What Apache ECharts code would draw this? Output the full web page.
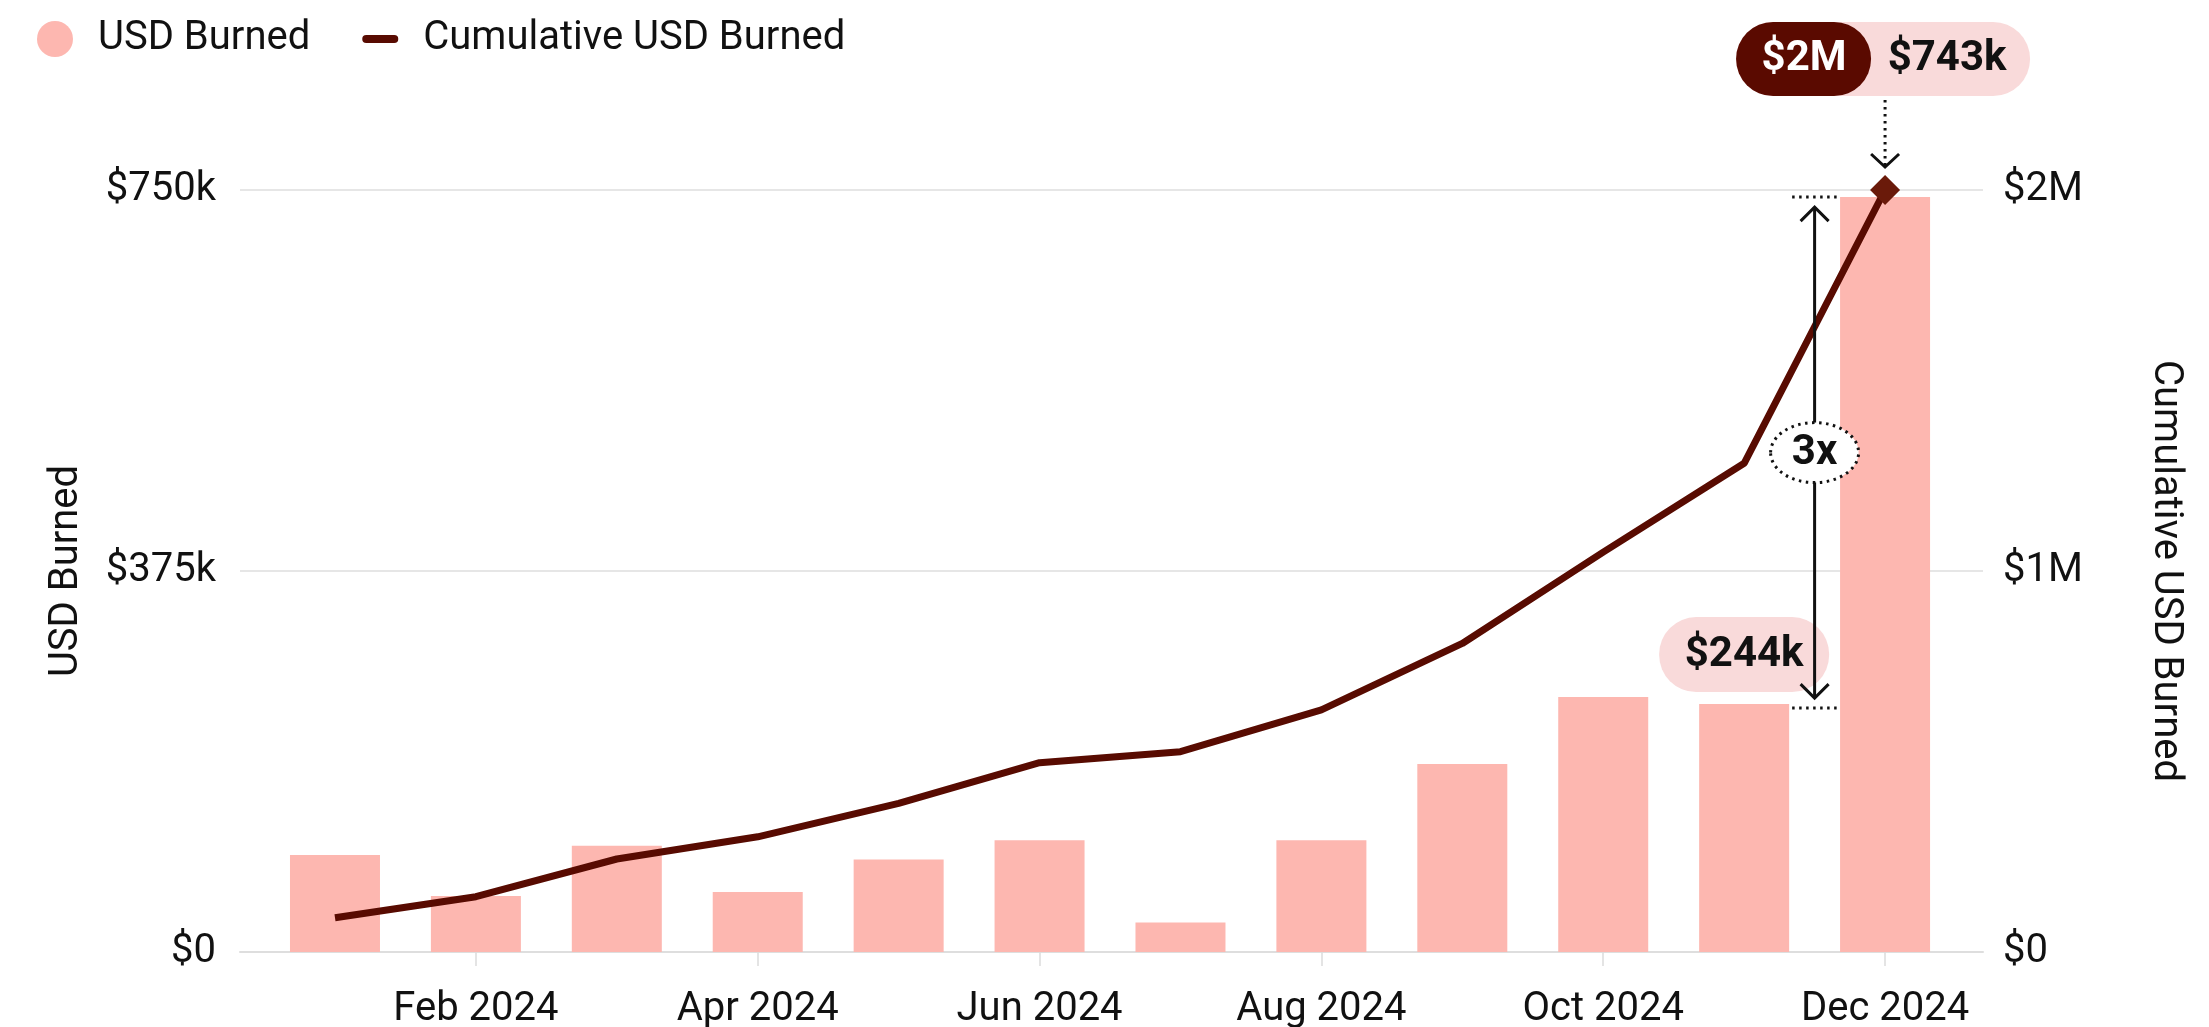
<!DOCTYPE html>
<html>
<head>
<meta charset="utf-8">
<script src="https://cdn.jsdelivr.net/npm/echarts@6/dist/echarts.min.js"></script>
<style>
  html, body { margin: 0; padding: 0; background: #ffffff; }
  #chart { width: 2209px; height: 1027px; }
</style>
</head>
<body>
<div id="chart"></div>
<script>
// ---------- data ----------
const months = ['Jan 2024','Feb 2024','Mar 2024','Apr 2024','May 2024','Jun 2024','Jul 2024','Aug 2024','Sep 2024','Oct 2024','Nov 2024','Dec 2024'];
const usdBurned = [95500, 55000, 104500, 59000, 91000, 110000, 29000, 110000, 185000, 251000, 244000, 743000];
const cumulativeBurned = [93500, 150700, 253500, 314000, 405000, 516000, 546000, 660000, 841000, 1090000, 1332000, 2077000];
const tickIndex = [1, 3, 5, 7, 9, 11];
const tickLabels = ['Feb 2024', 'Apr 2024', 'Jun 2024', 'Aug 2024', 'Oct 2024', 'Dec 2024'];

// ---------- style ----------
const FONT = 'Roboto';
const PINK = '#fdb7b0';
const MAROON = '#580b01';
const DIAMOND = '#6a1a0a';
const PILL = '#f9dada';
const TEXT = '#111111';

const fmtK = v => v === 0 ? '$0' : '$' + Math.round(v / 1000) + 'k';
const fmtM = v => v === 0 ? '$0' : '$' + Math.round(v / 1e6) + 'M';

const chart = echarts.init(document.getElementById('chart'), null, { renderer: 'canvas' });
const last = months.length - 1;
const cumMax = cumulativeBurned[last];

const option = {
  animation: false,
  backgroundColor: '#ffffff',
  textStyle: { fontFamily: FONT },
  legend: {
    left: 32, top: 14,
    itemWidth: 36, itemHeight: 36, itemGap: 52,
    textStyle: { fontFamily: FONT, fontSize: 40, color: TEXT, padding: [0, 0, 0, 20] },
    data: [
      { name: 'USD Burned', icon: 'circle' },
      { name: 'Cumulative USD Burned', icon: 'path://M4,0 H32 A4,4 0 0 1 32,8 H4 A4,4 0 0 1 4,0 Z' }
    ]
  },
  grid: { left: 240, right: 226, top: 190, bottom: 75, containLabel: false, outerBoundsMode: 'none' },
  xAxis: {
    type: 'value',
    min: -0.674, max: 11.695,
    splitLine: { show: false },
    axisLine: { show: true, lineStyle: { color: '#dedede', width: 2 } },
    axisTick: { show: true, length: 14, lineStyle: { color: '#dcdcdc', width: 1.5 }, customValues: tickIndex },
    axisLabel: {
      customValues: tickIndex,
      formatter: v => tickLabels[tickIndex.indexOf(Math.round(v))] || '',
      fontFamily: FONT, fontSize: 40, color: TEXT, margin: 38
    }
  },
  yAxis: [
    {
      type: 'value', min: 0, max: 750000, interval: 375000,
      name: 'USD Burned', nameLocation: 'middle', nameRotate: 90, nameGap: 153,
      nameTextStyle: { fontFamily: FONT, fontSize: 40, color: TEXT },
      axisLine: { show: false }, axisTick: { show: false },
      axisLabel: { formatter: fmtK, fontFamily: FONT, fontSize: 40, color: TEXT, margin: 24 },
      splitLine: { show: true, lineStyle: { color: '#e6e6e6', width: 2 } }
    },
    {
      type: 'value', min: 0, max: cumMax, interval: cumMax / 2,
      name: 'Cumulative USD Burned', nameLocation: 'middle', nameRotate: -90, nameGap: 162,
      nameTextStyle: { fontFamily: FONT, fontSize: 40, color: TEXT },
      axisLine: { show: false }, axisTick: { show: false },
      axisLabel: { formatter: fmtM, fontFamily: FONT, fontSize: 40, color: TEXT, margin: 20 },
      splitLine: { show: false }
    }
  ],
  series: [
    {
      name: 'USD Burned', type: 'bar', xAxisIndex: 0, yAxisIndex: 0,
      barWidth: 90,
      itemStyle: { color: PINK },
      data: usdBurned.map((v, i) => [i, v]),
      z: 2
    },
    {
      name: 'Cumulative USD Burned', type: 'line', xAxisIndex: 0, yAxisIndex: 1,
      symbol: 'none', showSymbol: true,
      lineStyle: { color: MAROON, width: 7 },
      itemStyle: { color: MAROON },
      data: cumulativeBurned.map((v, i) => i === last
        ? { value: [i, v], symbol: 'diamond', symbolSize: 30, itemStyle: { color: DIAMOND } }
        : [i, v]),
      z: 5
    }
  ]
};
chart.setOption(option);

// ---------- annotations placed through the chart's own scales ----------
function px(seriesIndex, x, y) { return chart.convertToPixel({ seriesIndex: seriesIndex }, [x, y]); }

const P = px(1, last, cumMax);                       // Dec cumulative point
const decTop = px(0, last, usdBurned[last]);          // Dec bar top
const novTop = px(0, last - 1, usdBurned[last - 1]);  // Nov bar top
const mid = px(0, last - 0.5, 0);                     // gap between Nov and Dec
const barHalf = 45;
const g = [];
const dotted = { stroke: '#111', lineWidth: 3, lineDash: [2.5, 4.5] };

// top pill: $2M | $743k
const pillTop = P[1] - 168, pillH = 74;
g.push({ type: 'rect', shape: { x: P[0] - 149, y: pillTop, width: 294, height: pillH, r: 37 }, style: { fill: PILL }, z: 20 });
g.push({ type: 'rect', shape: { x: P[0] - 149, y: pillTop, width: 135, height: pillH, r: 37 }, style: { fill: '#5a0a00' }, z: 21 });
g.push({ type: 'text', x: P[0] - 81, y: pillTop + pillH / 2, style: { text: fmtM(cumMax), fill: '#ffffff', font: 'bold 42px ' + FONT, align: 'center', verticalAlign: 'middle' }, z: 22 });
g.push({ type: 'text', x: P[0] + 62, y: pillTop + pillH / 2, style: { text: fmtK(usdBurned[last]), fill: TEXT, font: 'bold 42px ' + FONT, align: 'center', verticalAlign: 'middle' }, z: 22 });
// dotted leader + chevron
g.push({ type: 'line', shape: { x1: P[0], y1: pillTop + pillH + 4, x2: P[0], y2: P[1] - 24 }, style: dotted, z: 20 });
g.push({ type: 'polyline', shape: { points: [[P[0] - 14, P[1] - 36], [P[0], P[1] - 23], [P[0] + 14, P[1] - 36]] }, style: { stroke: '#111', lineWidth: 3, fill: null }, z: 20 });

// bracket between Nov and Dec tops
const bx = mid[0];
const x1 = novTop[0] + barHalf + 3, x2 = decTop[0] - barHalf;
g.push({ type: 'line', shape: { x1: x1, y1: decTop[1], x2: x2, y2: decTop[1] }, style: dotted, z: 20 });
g.push({ type: 'line', shape: { x1: x1, y1: novTop[1] + 4, x2: x2, y2: novTop[1] + 4 }, style: dotted, z: 20 });
const topTip = decTop[1] + 10, botTip = novTop[1] - 6;
g.push({ type: 'line', shape: { x1: bx, y1: topTip, x2: bx, y2: botTip }, style: { stroke: '#111', lineWidth: 3 }, z: 20 });
g.push({ type: 'polyline', shape: { points: [[bx - 14, topTip + 14], [bx, topTip], [bx + 14, topTip + 14]] }, style: { stroke: '#111', lineWidth: 3, fill: null }, z: 20 });
g.push({ type: 'polyline', shape: { points: [[bx - 14, botTip - 14], [bx, botTip], [bx + 14, botTip - 14]] }, style: { stroke: '#111', lineWidth: 3, fill: null }, z: 20 });
const cy = (topTip + botTip) / 2;
g.push({ type: 'ellipse', shape: { cx: bx, cy: cy, rx: 44, ry: 30 }, style: Object.assign({ fill: '#ffffff' }, dotted), z: 21 });
g.push({ type: 'text', x: bx, y: cy + 1, style: { text: Math.round(usdBurned[last] / usdBurned[last - 1]) + 'x', fill: TEXT, font: 'bold 42px ' + FONT, align: 'center', verticalAlign: 'middle' }, z: 22 });

// $244k pill above Nov bar
const p2Bottom = novTop[1] - 12;
g.push({ type: 'rect', shape: { x: novTop[0] - 85, y: p2Bottom - 75, width: 170, height: 75, r: 37 }, style: { fill: PILL }, z: 18 });
g.push({ type: 'text', x: novTop[0], y: p2Bottom - 37, style: { text: fmtK(usdBurned[last - 1]), fill: TEXT, font: 'bold 42px ' + FONT, align: 'center', verticalAlign: 'middle' }, z: 19 });

chart.setOption({ graphic: { elements: g } });
</script>
</body>
</html>
